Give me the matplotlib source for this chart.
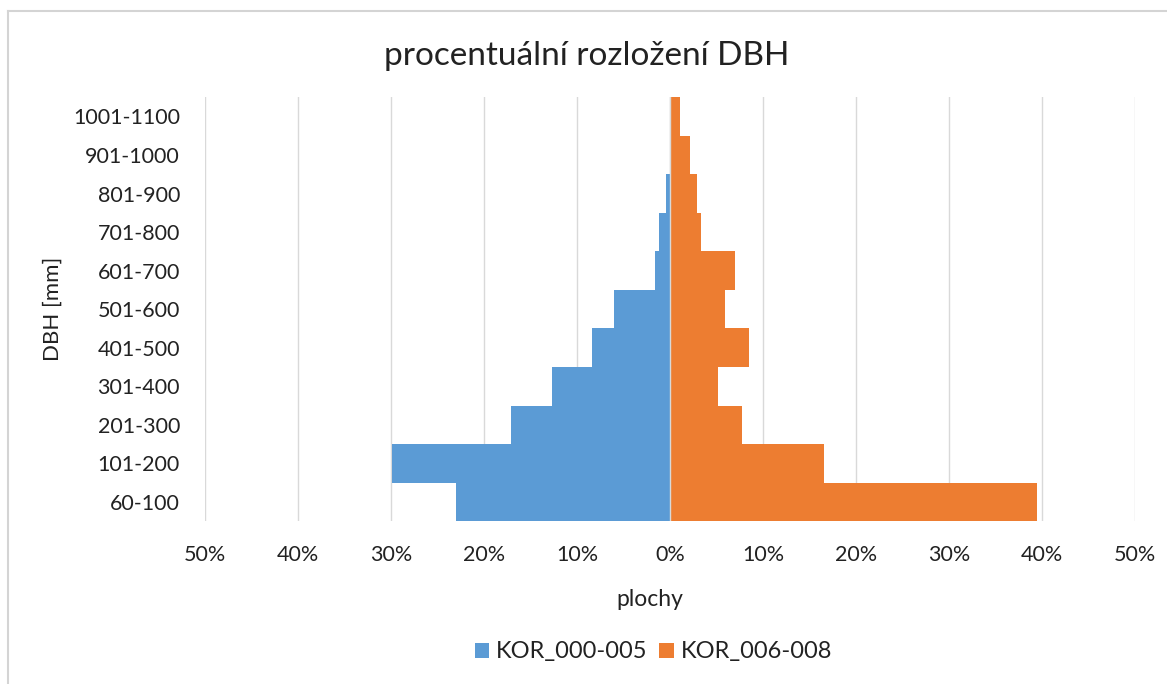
import matplotlib
matplotlib.use("Agg")
from matplotlib import pyplot as plt
from matplotlib.ticker import FuncFormatter, MultipleLocator
from matplotlib.lines import Line2D

# tloušťkové třídy (mm) a podíly stromů v %
tridy = ["60-100", "101-200", "201-300", "301-400", "401-500", "501-600",
         "601-700", "701-800", "801-900", "901-1000", "1001-1100"]
kor_000_005 = [23.0, 29.9, 17.1, 12.7, 8.35, 6.0, 1.6, 1.2, 0.45, 0.0, 0.0]
kor_006_008 = [39.4, 16.6, 7.7, 5.15, 8.45, 5.9, 6.95, 3.3, 2.9, 2.15, 1.07]

plt.rcParams['font.family'] = ['Lato', 'DejaVu Sans']
barva_textu = "#222222"

fig = plt.figure(figsize=(11.67, 6.84), dpi=100)
ax = fig.add_axes([0.1757, 0.238, 0.797, 0.62])

y = range(len(tridy))
# levá strana záporně, aby vznikla pyramida
ax.barh(y, [-v for v in kor_000_005], height=1.0, color="#5B9BD5", label="KOR_000-005", zorder=2)
ax.barh(y, kor_006_008, height=1.0, color="#ED7D31", label="KOR_006-008", zorder=2)

ax.set_xlim(-50, 50)
ax.set_ylim(-0.5, len(tridy) - 0.5)
ax.xaxis.set_major_locator(MultipleLocator(10))
ax.xaxis.set_major_formatter(FuncFormatter(lambda v, p: "%d%%" % abs(round(v))))
ax.set_yticks(list(y))
ax.set_yticklabels(tridy)

ax.grid(axis="x", color="#d9d9d9", linewidth=1, zorder=0)
ax.axvline(0, color="#d9d9d9", linewidth=1, zorder=3)
for s in ax.spines.values():
    s.set_visible(False)
ax.tick_params(length=0, labelsize=15.5, colors=barva_textu)
ax.tick_params(axis="x", pad=17)
ax.tick_params(axis="y", pad=18)

ax.set_xlabel("plochy", fontsize=16.5, color=barva_textu)
ax.xaxis.set_label_coords(0.478, -0.16)
ax.set_ylabel("DBH [mm]", fontsize=16, color=barva_textu)
ax.yaxis.set_label_coords(-0.153, 0.5)
fig.text(0.503, 0.918, "procentuální rozložení DBH", ha="center", va="center",
         fontsize=24, color=barva_textu)

ax.legend(loc="center", bbox_to_anchor=(0.56, 0.047), bbox_transform=fig.transFigure,
          ncol=2, frameon=False, fontsize=17, handlelength=0.6, handleheight=0.6,
          handletextpad=0.3, columnspacing=0.5, labelcolor=barva_textu)

# okraj grafu - horní a levá hrana
fig.add_artist(Line2D([0.007, 1.0], [0.984, 0.984], color="#d4d4d4", linewidth=1.5))
fig.add_artist(Line2D([0.007, 0.007], [0.0, 0.984], color="#d4d4d4", linewidth=1.5))

plt.savefig("out.png", dpi=100)
